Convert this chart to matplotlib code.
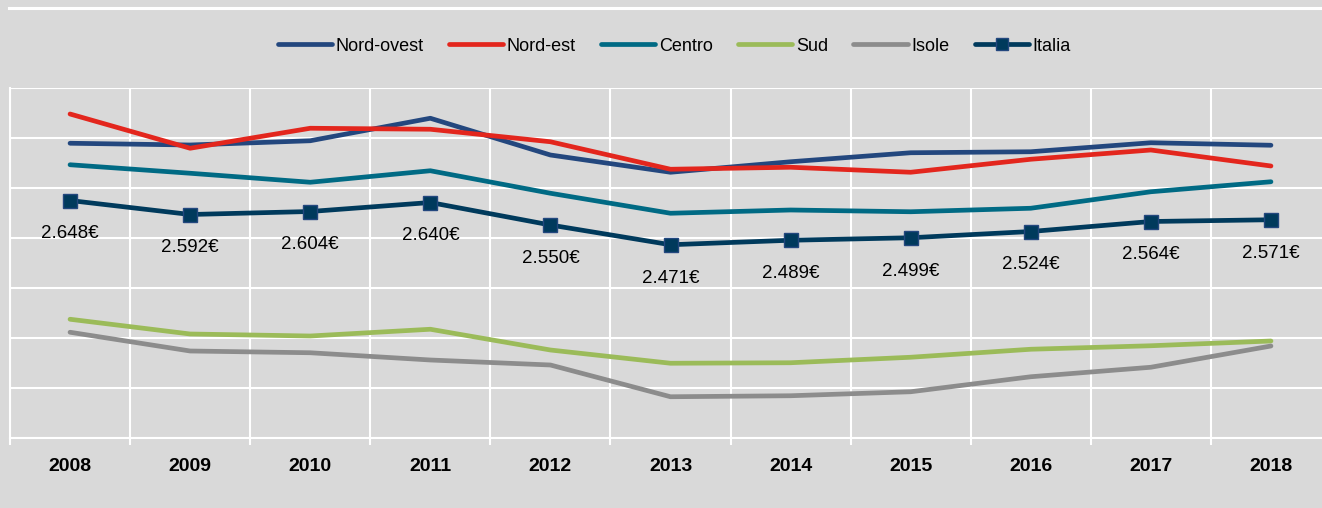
import numpy as np
import matplotlib.pyplot as plt
from matplotlib.lines import Line2D

plt.rcParams['font.family'] = ['Liberation Sans', 'DejaVu Sans']

years = ['2008', '2009', '2010', '2011', '2012', '2013', '2014', '2015', '2016', '2017', '2018']

nord_ovest = [2.877, 2.870, 2.887, 2.977, 2.830, 2.761, 2.803, 2.839, 2.843, 2.879, 2.869]
nord_est = [2.994, 2.857, 2.937, 2.933, 2.883, 2.773, 2.781, 2.761, 2.813, 2.850, 2.786]
centro = [2.791, 2.757, 2.721, 2.767, 2.677, 2.597, 2.610, 2.603, 2.617, 2.683, 2.723]
sud = [2.173, 2.114, 2.106, 2.133, 2.050, 1.997, 1.999, 2.021, 2.053, 2.067, 2.086]
isole = [2.121, 2.046, 2.039, 2.010, 1.990, 1.863, 1.867, 1.883, 1.943, 1.981, 2.066]
italia = [2.648, 2.592, 2.604, 2.640, 2.550, 2.471, 2.489, 2.499, 2.524, 2.564, 2.571]

bg = '#D9D9D9'

fig = plt.figure(figsize=(13.22, 5.08), dpi=100, facecolor=bg)
ax = fig.add_axes([10 / 1322, 70.5 / 508, 1321 / 1322, 350 / 508])
ax.set_facecolor(bg)

x = np.arange(len(years))
lw = 3.4
series = [
    ('Nord-ovest', nord_ovest, '#23477E'),
    ('Nord-est', nord_est, '#E3261D'),
    ('Centro', centro, '#006A84'),
    ('Sud', sud, '#9BBB59'),
    ('Isole', isole, '#8C8C8C'),
]
for name, vals, col in series:
    ax.plot(x, vals, color=col, lw=lw, label=name, solid_capstyle='round',
            solid_joinstyle='round', zorder=3)

ax.plot(x, italia, color='#003A5C', lw=lw, marker='s', markersize=10,
        markerfacecolor='#003A5C', markeredgecolor='#23477E', markeredgewidth=1,
        label='Italia', solid_capstyle='round', zorder=4)

for xi, v in zip(x, italia):
    ax.annotate(f'{v:.3f}€', (xi, v), xytext=(0, -24), textcoords='offset points',
                ha='center', va='center', fontsize=13.5, color='black')

ax.set_xlim(-0.5, len(years) - 0.5)
ax.set_ylim(1.7, 3.1)
ax.set_yticks(np.arange(1.7, 3.11, 0.2))
ax.set_yticklabels([])
ax.set_xticks(x)
ax.set_xticklabels(years, fontsize=14, fontweight='bold')
ax.set_xticks(np.arange(-0.5, len(years), 1), minor=True)
ax.tick_params(axis='x', which='major', length=0, pad=15)
ax.tick_params(axis='x', which='minor', length=5, width=1.5, color='white', direction='out')
ax.tick_params(axis='y', length=0)
ax.grid(True, axis='y', color='white', lw=1.5)
ax.grid(True, axis='x', which='minor', color='white', lw=1.5)
for s in ['top', 'right']:
    ax.spines[s].set_visible(False)
for s in ['left', 'bottom']:
    ax.spines[s].set_color('white')
    ax.spines[s].set_linewidth(1.5)

fig.legend(loc='center', bbox_to_anchor=(0.51, 0.909), ncol=6, frameon=False,
           fontsize=13, handlelength=3.0, handletextpad=0.2, columnspacing=1.4,
           markerscale=0.85)

# white rule across the top of the frame
fig.add_artist(Line2D([9 / 1322, 1.0], [1 - 8 / 508, 1 - 8 / 508], color='white', lw=2.2))

fig.savefig('out.png', dpi=100, facecolor=bg)
